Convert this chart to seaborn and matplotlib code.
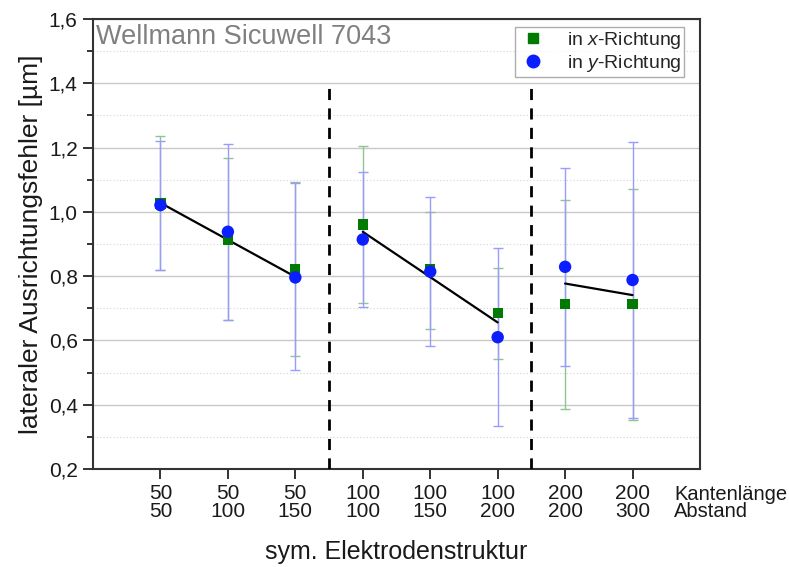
import numpy as np
import pandas as pd
import matplotlib
matplotlib.use("Agg")
import matplotlib.pyplot as plt
import matplotlib.transforms as mtransforms
from matplotlib.ticker import MultipleLocator, FuncFormatter
from matplotlib.lines import Line2D
import seaborn as sns

# ---- data ----
kantenlaenge = ["50", "50", "50", "100", "100", "100", "200", "200"]
abstand = ["50", "100", "150", "100", "150", "200", "200", "300"]
x_mean = [1.026, 0.914, 0.823, 0.961, 0.821, 0.685, 0.713, 0.713]
x_upper = [1.235, 1.168, 1.093, 1.206, 1.000, 0.826, 1.036, 1.072]
x_lower = [0.819, 0.664, 0.550, 0.716, 0.635, 0.542, 0.387, 0.352]
y_mean = [1.021, 0.938, 0.796, 0.914, 0.814, 0.610, 0.829, 0.788]
y_upper = [1.222, 1.210, 1.090, 1.123, 1.047, 0.889, 1.137, 1.216]
y_lower = [0.819, 0.664, 0.509, 0.703, 0.583, 0.335, 0.521, 0.359]
# fitted trend segments (group start/end position index, value)
fit_groups = [(1, 3), (4, 6), (7, 8)]
fit_start = [1.028, 0.938, 0.777]
fit_end = [0.798, 0.656, 0.741]
separators = [3.5, 6.5]

pos = np.arange(1, len(kantenlaenge) + 1)
df_x = pd.DataFrame({"pos": pos, "val": x_mean})
df_y = pd.DataFrame({"pos": pos, "val": y_mean})

sns.set_theme(style="white")
plt.rcParams["font.family"] = ["Liberation Sans", "DejaVu Sans"]
plt.rcParams["mathtext.fontset"] = "custom"
plt.rcParams["mathtext.it"] = "Liberation Sans:italic"
plt.rcParams["mathtext.rm"] = "Liberation Sans"

fig = plt.figure(figsize=(7.89, 5.67), dpi=100)
ax = fig.add_axes([93 / 789, 1 - 469 / 567, (700 - 93) / 789, (469 - 19) / 567])

green = "#007a00"
blue = "#0a1eff"
green_light = "#8fc48f"
blue_light = "#9a9aff"

# grid
ax.yaxis.set_major_locator(MultipleLocator(0.2))
ax.yaxis.set_minor_locator(MultipleLocator(0.1))
ax.grid(axis="y", which="major", color="#c8c8c8", lw=1.0, ls="-", zorder=0)
ax.grid(axis="y", which="minor", color="#d4d4d4", lw=0.8, ls=(0, (1, 2)), zorder=0)
ax.set_axisbelow(True)

# error bars
ax.errorbar(pos, x_mean,
            yerr=[np.array(x_mean) - np.array(x_lower), np.array(x_upper) - np.array(x_mean)],
            fmt="none", ecolor=green_light, elinewidth=1.0, capsize=3.5, capthick=1.0, zorder=2)
ax.errorbar(pos, y_mean,
            yerr=[np.array(y_mean) - np.array(y_lower), np.array(y_upper) - np.array(y_mean)],
            fmt="none", ecolor=blue_light, elinewidth=1.0, capsize=3.5, capthick=1.0, zorder=2.1)

# separators
for s in separators:
    ax.plot([s, s], [0.2, 1.4], color="black", ls=(0, (4, 3)), lw=2.0, zorder=3)

# fit lines
for (a, b), v0, v1 in zip(fit_groups, fit_start, fit_end):
    ax.plot([a, b], [v0, v1], color="black", lw=1.6, zorder=4)

# points
sns.scatterplot(data=df_x, x="pos", y="val", color=green, marker="s", s=55,
                edgecolor="none", ax=ax, zorder=5, legend=False)
sns.scatterplot(data=df_y, x="pos", y="val", color=blue, marker="o", s=80,
                edgecolor="none", ax=ax, zorder=5, legend=False)

ax.set_xlim(0, 9)
ax.set_ylim(0.2, 1.6)
ax.set_xticks(pos)
ax.set_xticklabels([f"{k}\n{a}" for k, a in zip(kantenlaenge, abstand)], linespacing=0.9)
ax.yaxis.set_major_formatter(FuncFormatter(lambda v, p: f"{v:.1f}".replace(".", ",")))

ax.tick_params(axis="both", which="major", direction="out", length=7, width=1.4,
               labelsize=15, color="#333333", labelcolor="#1a1a1a",
               bottom=True, left=True)
ax.tick_params(axis="y", which="minor", direction="out", length=4, width=1.4,
               color="#333333", left=True)
ax.tick_params(axis="x", pad=4)
ax.tick_params(axis="y", pad=4)
for sp in ax.spines.values():
    sp.set_color("#333333")
    sp.set_linewidth(1.5)

trans = mtransforms.blended_transform_factory(ax.transData, ax.transAxes)
ax.text(8.62, -0.035, "Kantenlänge\nAbstand", transform=trans, ha="left", va="top",
        fontsize=14.5, color="#1a1a1a", linespacing=0.9)

ax.set_xlabel("sym. Elektrodenstruktur", fontsize=18, color="#1a1a1a", labelpad=14)
ax.set_ylabel("lateraler Ausrichtungsfehler [µm]", fontsize=19, color="#1a1a1a", labelpad=4)

ax.text(0.005, 0.99, "Wellmann Sicuwell 7043", transform=ax.transAxes, ha="left", va="top",
        fontsize=19.5, color="#808080")

# legend
handles = [Line2D([], [], ls="none", marker="s", color=green, markersize=7),
           Line2D([], [], ls="none", marker="o", color=blue, markersize=9)]
labels = ["in $\\mathit{x}$-Richtung", "in $\\mathit{y}$-Richtung"]
leg = ax.legend(handles, labels, loc="upper right", bbox_to_anchor=(0.974, 0.982),
                fontsize=14, frameon=True, fancybox=False, edgecolor="#999999",
                handletextpad=1.0, borderpad=0.15, labelspacing=0.1, handlelength=1.5,
                borderaxespad=0.0)
leg.get_frame().set_linewidth(1.0)

fig.savefig("out.png", dpi=100)
